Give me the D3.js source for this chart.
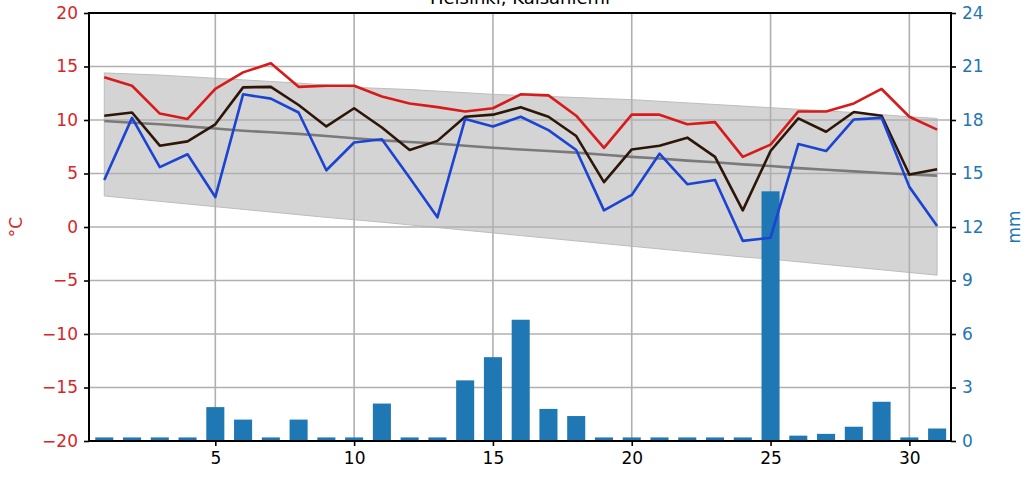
<!DOCTYPE html>
<html>
<head>
<meta charset="utf-8">
<script src="https://cdn.jsdelivr.net/npm/d3@7"></script>
<style>
  body { margin: 0; background: white; }
  svg { display: block; font-family: "DejaVu Sans", sans-serif; }
</style>
</head>
<body>
<div id="chart"></div>
<script>
var width = 1034,
    height = 484;

var margin = {top: 13, right: 83, bottom: 43, left: 89};

// daily data, Helsinki Kaisaniemi
var days = d3.range(1, 32);
var tMax = [14.0, 13.2, 10.6, 10.1, 12.9, 14.45, 15.3, 13.1, 13.2, 13.2, 12.2, 11.55, 11.2, 10.8, 11.1,
            12.4, 12.3, 10.4, 7.4, 10.5, 10.5, 9.6, 9.8, 6.55, 7.7, 10.8, 10.8, 11.55, 12.9, 10.3, 9.1];
var tMean = [10.4, 10.7, 7.6, 8.0, 9.6, 13.05, 13.1, 11.4, 9.4, 11.1, 9.3, 7.2, 8.05, 10.3, 10.5,
             11.2, 10.3, 8.5, 4.2, 7.25, 7.6, 8.35, 6.55, 1.55, 7.1, 10.15, 8.9, 10.75, 10.4, 4.9, 5.4];
var tMin = [4.4, 10.2, 5.6, 6.8, 2.8, 12.4, 12.0, 10.7, 5.3, 7.9, 8.2, 4.6, 0.9, 10.1, 9.4,
            10.3, 9.05, 7.2, 1.55, 3.0, 6.85, 4.0, 4.4, -1.3, -1.0, 7.75, 7.1, 10.05, 10.2, 3.75, 0.1];
var normMean = [9.9, 9.75, 9.6, 9.4, 9.2, 9.0, 8.85, 8.7, 8.5, 8.3, 8.1, 7.95, 7.8, 7.6, 7.4,
                7.25, 7.1, 6.95, 6.75, 6.55, 6.4, 6.2, 6.05, 5.85, 5.7, 5.5, 5.35, 5.2, 5.05, 4.9, 4.8];
var normHigh = [14.4, 14.3, 14.2, 14.05, 13.9, 13.75, 13.6, 13.45, 13.25, 13.05, 12.95, 12.85, 12.7, 12.55, 12.4,
                12.3, 12.2, 12.1, 12.0, 11.9, 11.75, 11.6, 11.45, 11.3, 11.15, 11.0, 10.85, 10.7, 10.5, 10.3, 10.15];
var normLow = [2.9, 2.65, 2.4, 2.15, 1.9, 1.65, 1.4, 1.15, 0.9, 0.68, 0.45, 0.2, -0.05, -0.3, -0.55,
               -0.8, -1.05, -1.3, -1.55, -1.8, -2.05, -2.3, -2.55, -2.8, -3.0, -3.25, -3.5, -3.75, -4.0, -4.25, -4.5];
var precip = [0.2, 0.2, 0.2, 0.2, 1.9, 1.2, 0.2, 1.2, 0.2, 0.2, 2.1, 0.2, 0.2, 3.4, 4.7,
              6.8, 1.8, 1.4, 0.2, 0.2, 0.2, 0.2, 0.2, 0.2, 14.0, 0.3, 0.4, 0.8, 2.2, 0.2, 0.7];

var xTicks = [5, 10, 15, 20, 25, 30];
var tTicks = [-20, -15, -10, -5, 0, 5, 10, 15, 20];
var pTicks = [0, 3, 6, 9, 12, 15, 18, 21, 24];

var svg = d3.select("#chart")
    .append("svg")
        .attr("width", width)
        .attr("height", height);

var x = d3.scaleLinear()
    .domain([0.45, 31.5])
    .range([margin.left, width - margin.right]);

var yT = d3.scaleLinear()
    .domain([-20, 20])
    .range([height - margin.bottom, margin.top]);

var yP = d3.scaleLinear()
    .domain([0, 24])
    .range([height - margin.bottom, margin.top]);

var tRed = "#d62728",
    tBlue = "#1f77b4";

// normal range band
var band = d3.area()
    .x(function(d, i) { return x(days[i]); })
    .y0(function(d, i) { return yT(normLow[i]); })
    .y1(function(d, i) { return yT(normHigh[i]); });

svg.append("path")
    .datum(days)
    .attr("d", band)
    .attr("fill", "#d4d4d4")
    .attr("stroke", "#bdbdbd")
    .attr("stroke-width", 1);

// grid
svg.append("g")
    .selectAll("line")
    .data(xTicks)
    .enter().append("line")
        .attr("x1", function(d) { return x(d); })
        .attr("x2", function(d) { return x(d); })
        .attr("y1", margin.top)
        .attr("y2", height - margin.bottom)
        .attr("stroke", "#b0b0b0")
        .attr("stroke-width", 1.6);

svg.append("g")
    .selectAll("line")
    .data(tTicks.slice(1, -1))
    .enter().append("line")
        .attr("x1", margin.left)
        .attr("x2", width - margin.right)
        .attr("y1", function(d) { return yT(d); })
        .attr("y2", function(d) { return yT(d); })
        .attr("stroke", "#b0b0b0")
        .attr("stroke-width", 1.6);

// precipitation bars
var bw = x(1.65) - x(1);
svg.append("g")
    .selectAll("rect")
    .data(precip)
    .enter().append("rect")
        .attr("x", function(d, i) { return x(days[i]) - bw / 2; })
        .attr("y", function(d) { return yP(d); })
        .attr("width", bw)
        .attr("height", function(d) { return yP(0) - yP(d); })
        .attr("fill", tBlue);

// temperature lines
function addLine(values, colour, w) {
    var line = d3.line()
        .x(function(d, i) { return x(days[i]); })
        .y(function(d) { return yT(d); });
    svg.append("path")
        .datum(values)
        .attr("d", line)
        .attr("fill", "none")
        .attr("stroke", colour)
        .attr("stroke-width", w)
        .attr("stroke-linejoin", "round");
}

addLine(normMean, "#7a7a7a", 2.6);
addLine(tMax, "#d81a1a", 2.6);
addLine(tMean, "#2d1608", 2.6);
addLine(tMin, "#1b44d2", 2.6);

// axes
var xAxis = svg.append("g")
    .attr("transform", "translate(0," + (height - margin.bottom) + ")")
    .call(d3.axisBottom(x).tickValues(xTicks).tickSize(5).tickPadding(6));

var leftAxis = svg.append("g")
    .attr("transform", "translate(" + margin.left + ",0)")
    .call(d3.axisLeft(yT).tickValues(tTicks).tickSize(5).tickPadding(6)
        .tickFormat(function(d) { return d < 0 ? "\u2212" + Math.abs(d) : d; }));

var rightAxis = svg.append("g")
    .attr("transform", "translate(" + (width - margin.right) + ",0)")
    .call(d3.axisRight(yP).tickValues(pTicks).tickSize(5).tickPadding(6));

[xAxis, leftAxis, rightAxis].forEach(function(a) {
    a.select(".domain").remove();
    a.selectAll("line").attr("stroke", "black").attr("stroke-width", 1.6);
    a.selectAll("text").style("font-size", "17px").attr("font-family", "DejaVu Sans");
});
xAxis.selectAll("text").attr("fill", "black");
leftAxis.selectAll("text").attr("fill", tRed);
rightAxis.selectAll("text").attr("fill", tBlue);

// frame
svg.append("rect")
    .attr("x", margin.left)
    .attr("y", margin.top)
    .attr("width", width - margin.left - margin.right)
    .attr("height", height - margin.top - margin.bottom)
    .attr("fill", "none")
    .attr("stroke", "black")
    .attr("stroke-width", 2);

// labels
svg.append("text")
    .attr("transform", "translate(22," + ((margin.top + height - margin.bottom) / 2) + ") rotate(-90)")
    .attr("text-anchor", "middle")
    .attr("fill", tRed)
    .style("font-size", "17px")
    .text("°C");

svg.append("text")
    .attr("transform", "translate(1020," + ((margin.top + height - margin.bottom) / 2) + ") rotate(-90)")
    .attr("text-anchor", "middle")
    .attr("fill", tBlue)
    .style("font-size", "17px")
    .text("mm");

svg.append("text")
    .attr("x", (margin.left + width - margin.right) / 2)
    .attr("y", 4)
    .attr("text-anchor", "middle")
    .attr("fill", "black")
    .style("font-size", "18px")
    .text("Helsinki, Kaisaniemi");
</script>
</body>
</html>
